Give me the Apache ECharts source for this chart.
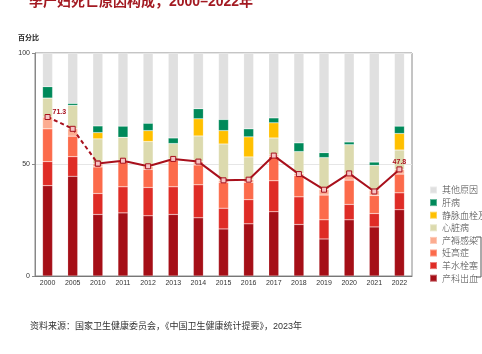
<!DOCTYPE html>
<html>
<head>
<meta charset="utf-8">
<script src="https://cdn.jsdelivr.net/npm/echarts@6/dist/echarts.min.js"></script>
<style>
  html, body { margin: 0; padding: 0; background: #fff; }
  #chart { width: 482px; height: 354px; }
</style>
</head>
<body>
<div id="chart"></div>
<script>
// categories
const years = ['2000', '2005', '2010', '2011', '2012', '2013', '2014', '2015', '2016', '2017', '2018', '2019', '2020', '2021', '2022'];

// stacked shares (%), bottom to top
const hemorrhage = [40.5, 44.7, 27.6, 28.3, 27.0, 27.6, 26.1, 21.1, 23.4, 28.8, 23.1, 16.6, 25.2, 22.0, 29.7];
const embolism = [10.8, 8.8, 9.4, 11.7, 12.7, 12.4, 14.8, 9.3, 10.8, 13.9, 12.4, 8.6, 6.9, 6.0, 7.6];
const hypertension = [14.7, 9.2, 11.9, 11.6, 8.1, 12.0, 8.9, 11.6, 7.8, 10.8, 9.5, 11.1, 10.9, 8.1, 8.4];
const infection = [5.3, 3.3, 1.5, 0.3, 1.4, 0.5, 1.5, 0.9, 1.2, 0.8, 0.9, 2.5, 2.7, 2.3, 2.1];
const heart = [8.5, 10.5, 11.1, 10.3, 11.1, 6.9, 11.5, 16.3, 10.2, 7.6, 9.9, 14.3, 13.2, 11.2, 8.7];
const thrombosis = [0, 0, 2.8, 0, 4.9, 0, 7.7, 6.0, 9.0, 6.8, 0, 0, 0, 0, 7.4];
const liver = [5.1, 0.9, 3.0, 5.0, 3.3, 2.5, 4.5, 5.0, 3.6, 2.2, 3.9, 2.2, 1.2, 1.5, 3.3];
const other = [15.1, 22.6, 32.7, 33.1, 31.5, 38.1, 25.0, 29.8, 34.0, 29.1, 40.3, 44.7, 39.9, 48.9, 32.8];

// sum of the four obstetric causes (line)
const obstetricTotal = [71.3, 66.0, 50.4, 51.7, 49.2, 52.5, 51.3, 42.9, 43.2, 54.0, 45.7, 38.7, 46.0, 37.9, 47.8];

const stackSeries = [
  { name: '产科出血', data: hemorrhage, color: '#a50f17' },
  { name: '羊水栓塞', data: embolism, color: '#df2c26' },
  { name: '妊高症', data: hypertension, color: '#fc6b4b' },
  { name: '产褥感染', data: infection, color: '#fcac90' },
  { name: '心脏病', data: heart, color: '#dcdaae' },
  { name: '静脉血栓及肺栓塞', data: thrombosis, color: '#ffc000' },
  { name: '肝病', data: liver, color: '#00895a' },
  { name: '其他原因', data: other, color: '#e0e0e0' }
];

const lineColor = '#a8101c';
const dashedPart = obstetricTotal.map((v, i) => (i <= 2 ? v : '-'));
const solidPart = obstetricTotal.map((v, i) => (i >= 2 ? v : '-'));
const labelled = [0, years.length - 1];

const chart = echarts.init(document.getElementById('chart'), null, { renderer: 'canvas' });

const option = {
  animation: false,
  textStyle: { fontFamily: 'Liberation Sans, Noto Sans CJK SC, sans-serif' },
  title: [
    {
      text: '孕产妇死亡原因构成，2000–2022年',
      left: 24,
      top: -10,
      textStyle: { fontSize: 14, fontWeight: 'bold', color: '#a31a22', fontFamily: 'Liberation Sans, Noto Sans CJK SC, sans-serif' }
    },
    {
      text: '资料来源：国家卫生健康委员会，《中国卫生健康统计提要》，2023年',
      left: 25,
      top: 317,
      textStyle: { fontSize: 9, fontWeight: 'normal', color: '#333', fontFamily: 'Liberation Sans, Noto Sans CJK SC, sans-serif' }
    }
  ],
  graphic: [
    {
      type: 'text',
      left: 18,
      top: 34,
      style: { text: '百分比', fontSize: 7, fontWeight: 'bold', fill: '#222', fontFamily: 'Noto Sans CJK SC' }
    },
    {
      type: 'polyline',
      shape: { points: [[476, 237], [481, 237], [481, 277], [476, 277]] },
      style: { stroke: '#555', lineWidth: 1, fill: null }
    }
  ],
  legend: {
    orient: 'vertical',
    left: 424,
    top: 180,
    itemWidth: 7,
    itemHeight: 7,
    itemGap: 2.6,
    icon: 'rect',
    data: stackSeries.map(s => s.name).reverse(),
    textStyle: { fontSize: 9, color: '#444', lineHeight: 10, fontWeight: 300, fontFamily: 'Noto Sans CJK SC' }
  },
  grid: {
    left: 35,
    right: 70,
    top: 53,
    bottom: 78,
    show: true,
    borderColor: '#8a8a8a',
    borderWidth: 1
  },
  xAxis: {
    type: 'category',
    data: years,
    axisLine: { lineStyle: { color: '#777' } },
    axisTick: { show: false },
    axisLabel: { fontSize: 7, color: '#333', margin: 4 }
  },
  yAxis: {
    type: 'value',
    min: 0,
    max: 100,
    interval: 50,
    axisLine: { show: true, lineStyle: { color: '#888' } },
    axisTick: { show: true, length: 3, lineStyle: { color: '#888' } },
    axisLabel: { fontSize: 7, color: '#333', margin: 5 },
    splitLine: { show: true, lineStyle: { color: '#e6e6e6' } }
  },
  series: stackSeries.map(s => ({
    name: s.name,
    type: 'bar',
    stack: 'share',
    barWidth: 10,
    data: s.data,
    itemStyle: { color: s.color, borderColor: 'rgba(255,255,255,0.35)', borderWidth: 0.5 }
  })).concat([
    {
      name: '产科合计虚线',
      type: 'line',
      data: dashedPart,
      symbol: 'rect',
      symbolSize: 5,
      lineStyle: { color: lineColor, width: 2, type: [4, 3] },
      itemStyle: { color: '#f5c4c4', borderColor: lineColor, borderWidth: 1 },
      label: {
        show: true,
        position: 'right',
        distance: 2,
        offset: [0, -5],
        fontSize: 7,
        fontWeight: 'bold',
        color: lineColor,
        formatter: p => (p.dataIndex === labelled[0] ? p.value : '')
      },
      z: 5
    },
    {
      name: '产科合计',
      type: 'line',
      data: solidPart,
      symbol: 'rect',
      symbolSize: 5,
      lineStyle: { color: lineColor, width: 2 },
      itemStyle: { color: '#f5c4c4', borderColor: lineColor, borderWidth: 1 },
      label: {
        show: true,
        position: 'top',
        distance: 1,
        fontSize: 7,
        fontWeight: 'bold',
        color: lineColor,
        formatter: p => (p.dataIndex === labelled[1] ? p.value : '')
      },
      z: 5
    }
  ])
};

chart.setOption(option);
</script>
</body>
</html>
